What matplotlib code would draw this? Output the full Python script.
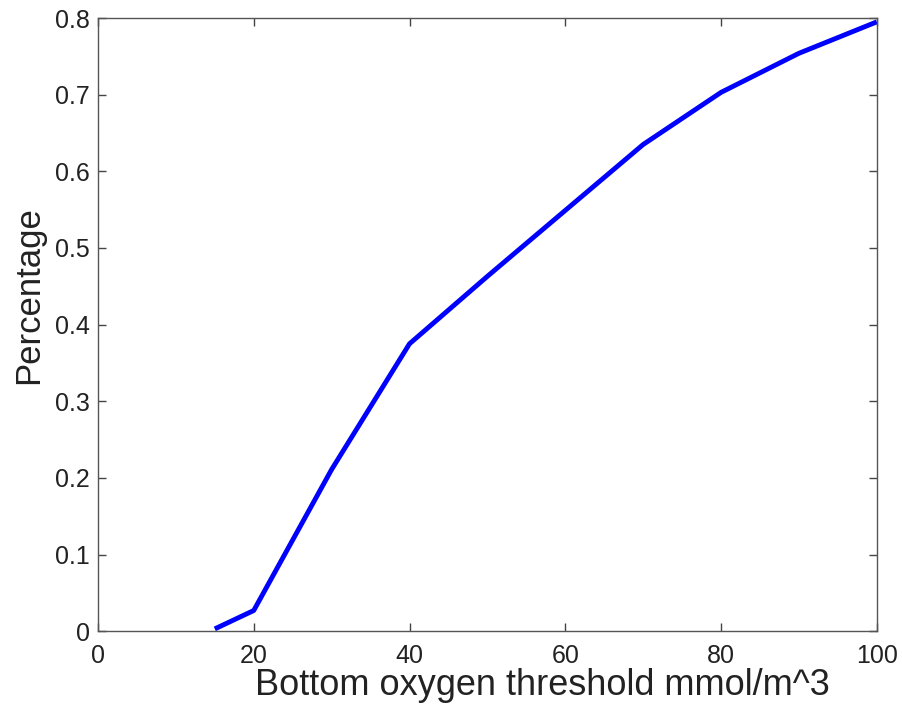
import matplotlib
matplotlib.use("Agg")
import matplotlib.pyplot as plt

threshold = [15, 20, 30, 40, 50, 60, 70, 80, 90, 100]
percentage = [0.003, 0.027, 0.211, 0.375, 0.463, 0.549, 0.635, 0.703, 0.754, 0.795]

xticks = [0, 20, 40, 60, 80, 100]
yticks = [0, 0.1, 0.2, 0.3, 0.4, 0.5, 0.6, 0.7, 0.8]
ytick_labels = ["0", "0.1", "0.2", "0.3", "0.4", "0.5", "0.6", "0.7", "0.8"]

plt.rcParams['font.family'] = ['Liberation Sans', 'DejaVu Sans']

fig = plt.figure(figsize=(9.03, 7.10), dpi=100)
ax = fig.add_axes([0.1085, 0.111, 0.8625, 0.8636])
ax.plot(threshold, percentage, color='#0000ff', linewidth=3.5, solid_capstyle='butt')
ax.set_xlim(0, 100)
ax.set_ylim(0, 0.8)
ax.set_xticks(xticks)
ax.set_yticks(yticks)
ax.set_yticklabels(ytick_labels)
ax.tick_params(direction='in', top=True, right=True, length=6, width=1, color='#444444',
               labelsize=18, colors='#222222')
ax.tick_params(axis='x', pad=9)
ax.tick_params(axis='y', pad=6)
for s in ax.spines.values():
    s.set_color('#555555')
    s.set_linewidth(1)
ax.set_xlabel('Bottom oxygen threshold mmol/m^3', fontsize=26, color='#222222')
ax.set_ylabel('Percentage', fontsize=25, color='#222222')
ax.xaxis.set_label_coords(0.57, -0.06)
ax.yaxis.set_label_coords(-0.068, 0.548)
fig.savefig('out.png', dpi=100)
